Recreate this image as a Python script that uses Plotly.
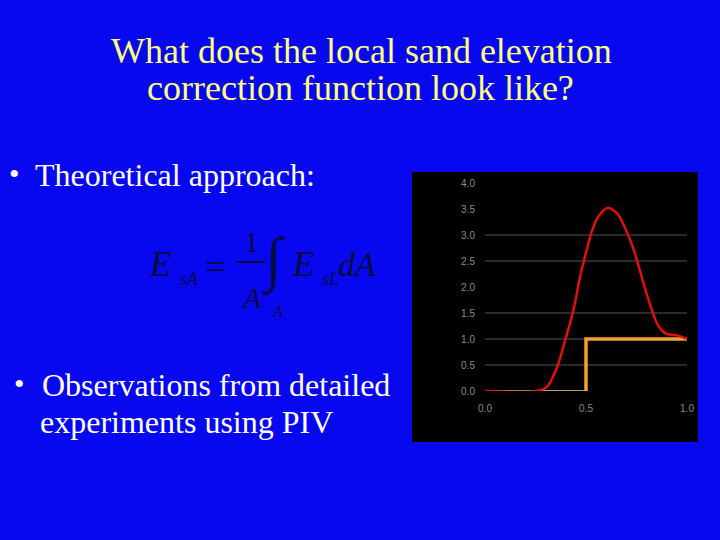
import plotly.graph_objects as go

# red curve: local correction function
red_x = [0.0, 0.256, 0.306, 0.355, 0.397, 0.438, 0.471, 0.504, 0.529, 0.562, 0.607,
         0.653, 0.694, 0.736, 0.785, 0.826, 0.860, 0.893, 0.950, 1.0]
red_y = [0.0, 0.0, 0.08, 0.44, 0.98, 1.56, 2.20, 2.72, 3.07, 3.36, 3.52,
         3.42, 3.13, 2.72, 2.07, 1.56, 1.24, 1.11, 1.07, 1.0]

# orange step
step_x = [0.0, 0.5, 1.0]
step_y = [0.0, 1.0, 1.0]

x_ticks = [0.0, 0.5, 1.0]
y_ticks = [0.0, 0.5, 1.0, 1.5, 2.0, 2.5, 3.0, 3.5, 4.0]
grid_y = [0.5, 1.0, 1.5, 2.5, 3.0]   # only these gridlines show in the picture

W, H = 720, 540
BLUE = "#0808f0"
SERIF = "Liberation Serif, Times New Roman, serif"

def px(x):
    return x / W

def py(y):
    return 1 - y / H

fig = go.Figure()

# gridlines
for g in grid_y:
    fig.add_shape(type="line", xref="x", yref="y", x0=0, x1=1, y0=g, y1=g,
                  line=dict(color="#555555", width=1), layer="below")

# lower flat part of the step is thinner/paler
fig.add_trace(go.Scatter(x=step_x[:2], y=[step_y[0]] * 2, mode="lines",
                         line=dict(color="#f8c890", width=1.5), hoverinfo="skip"))
# riser + top of the step
fig.add_trace(go.Scatter(x=step_x[1:], y=step_y[:2], mode="lines", line_shape="vh",
                         line=dict(color="#f5a030", width=3.5), hoverinfo="skip"))
fig.add_trace(go.Scatter(x=red_x, y=red_y, mode="lines", line_shape="spline",
                         line=dict(color="#e01010", width=2.5), hoverinfo="skip"))

# black panel behind the small chart
fig.add_shape(type="rect", xref="paper", yref="paper",
              x0=px(412), x1=px(698), y0=py(442), y1=py(172),
              fillcolor="black", line=dict(width=0), layer="below")

ann = []
def txt(x, y, s, size, color="white", xanchor="left", yanchor="middle", italic=False):
    ann.append(dict(x=px(x), y=py(y), xref="paper", yref="paper", text=s,
                    showarrow=False, xanchor=xanchor, yanchor=yanchor,
                    font=dict(family=SERIF, size=size, color=color,
                              style="italic" if italic else "normal")))

# title
txt(361, 51, "What does the local sand elevation", 36, "#ffff80", "center")
txt(360, 88, "correction function look like?", 36, "#ffff80", "center")

# bullets
txt(7, 173, "•", 30)
txt(33, 175, "Theoretical approach:", 32)
txt(12, 383, "•", 30)
txt(40, 385, "Observations from detailed", 32)
txt(38, 422, "experiments using PIV", 32)

# equation  E_sA = 1/A ∫_A E_sL dA
EQ = "#0a0a40"
txt(147, 264, "E", 35, EQ, italic=True)
txt(178, 279, "sA", 18, EQ, italic=True)
txt(203, 267, "=", 36, EQ)
txt(251, 241, "1", 30, EQ, "center")
txt(252, 297, "A", 30, EQ, "center", italic=True)
txt(273, 261, "∫", 60, EQ, "center")
txt(277, 311, "A", 16, EQ, "center", italic=True)
txt(290, 264, "E", 35, EQ, italic=True)
txt(320, 279, "sL", 18, EQ, italic=True)
txt(336, 264, "dA", 34, EQ, italic=True)
fig.add_shape(type="line", xref="paper", yref="paper",
              x0=px(237), x1=px(265), y0=py(262), y1=py(262),
              line=dict(color=EQ, width=2))

tickfont = dict(family="Arial", size=10, color="#8a8a8a")
fig.update_layout(
    width=W, height=H, margin=dict(l=0, r=0, t=0, b=0, pad=0, autoexpand=False),
    paper_bgcolor=BLUE, plot_bgcolor="black", showlegend=False,
    annotations=ann,
    xaxis=dict(domain=[px(485), px(687)], range=[0, 1], tickvals=x_ticks,
               tickformat=".1f", showgrid=False, zeroline=False, showline=False,
               ticks="", ticklabelstandoff=10, tickfont=tickfont, automargin=False),
    yaxis=dict(domain=[py(391), py(183)], range=[0, 4], tickvals=y_ticks,
               tickformat=".1f", showgrid=False, zeroline=False, showline=False,
               ticks="", ticklabelstandoff=9, tickfont=tickfont, automargin=False),
)

fig.write_html("out.html",
               config=dict(responsive=False, displayModeBar=False, staticPlot=True),
               post_script="document.body.style.margin='0';"
                           "document.body.style.overflow='hidden';"
                           "document.body.style.background='#0808f0';")
